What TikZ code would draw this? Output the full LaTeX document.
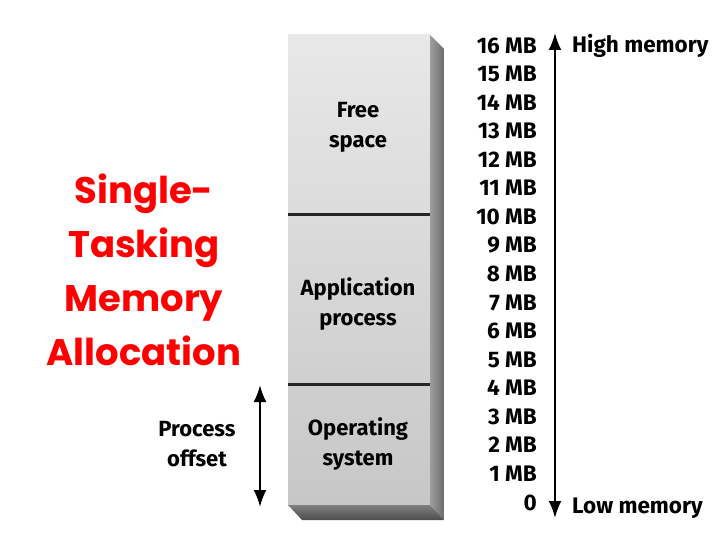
\documentclass[tikz,border=0pt]{standalone}
\usepackage{fontspec}
\setmainfont{Fira Sans}
\newfontfamily\titlefont{Poppins}
\usetikzlibrary{arrows.meta,positioning}

\begin{document}
\begin{tikzpicture}[x=1pt,y=-1pt]
  % --- Styles ---
  \tikzset{
    mem label/.style={font=\bfseries\fontsize{22.5}{22.5}\selectfont, anchor=base east, inner sep=0pt},
    side label/.style={font=\bfseries\fontsize{22.5}{22.5}\selectfont, anchor=base west, inner sep=0pt},
    block text/.style={font=\bfseries\fontsize{22}{30}\selectfont, align=center, inner sep=0pt},
    range arrow/.style={line width=2.2pt, {Latex[length=17pt,width=13pt]}-{Latex[length=17pt,width=13pt]}},
    divider/.style={line width=3pt, black!85}
  }
  \useasboundingbox (0,0) rectangle (720,540);

  % --- The memory column (front, side and bottom faces) ---
  \shade[top color=black!9, bottom color=black!22] (288,35) rectangle (430,505);
  \shade[left color=black!38, right color=black!58] (430,35) -- (444,49) -- (444,520) -- (430,505) -- cycle;
  \shade[top color=black!50, bottom color=black!70] (288,505) -- (430,505) -- (444,520) -- (302,520) -- cycle;

  % dividers between the regions
  \draw[divider] (288,215) -- (430,215);
  \draw[divider] (288,384) -- (430,384);

  % --- Region labels ---
  \node[block text] (free) at (358,127) {Free\\space};
  \node[block text] (app) at (358,304) {Application\\process};
  \node[block text] (os) at (358,444) {Operating\\system};

  % --- Address scale ---
  \foreach \i in {1,...,16}
    \node[mem label] (mb\i) at (537,{510-28.56*\i}) {\i\ MB};
  \node[mem label] (mb0) at (537,510) {0};

  \coordinate (high) at (555,33);
  \coordinate (low) at (555,518);
  \draw[range arrow] (low) -- (high);
  \node[side label] (highmem) at (572,53) {High memory};
  \node[side label] (lowmem) at (572,513) {Low memory};

  % --- Process offset ---
  \coordinate (offtop) at (260,385);
  \coordinate (offbot) at (260,507);
  \draw[range arrow] (offtop) -- (offbot);
  \node[block text] (offset) at (197,444) {Process\\offset};

  % --- Title ---
  \node[font=\titlefont\bfseries\fontsize{37}{54}\selectfont, text=red, align=center] (title) at (144,270)
    {Single-\\Tasking\\Memory\\Allocation};

\end{tikzpicture}
\end{document}
